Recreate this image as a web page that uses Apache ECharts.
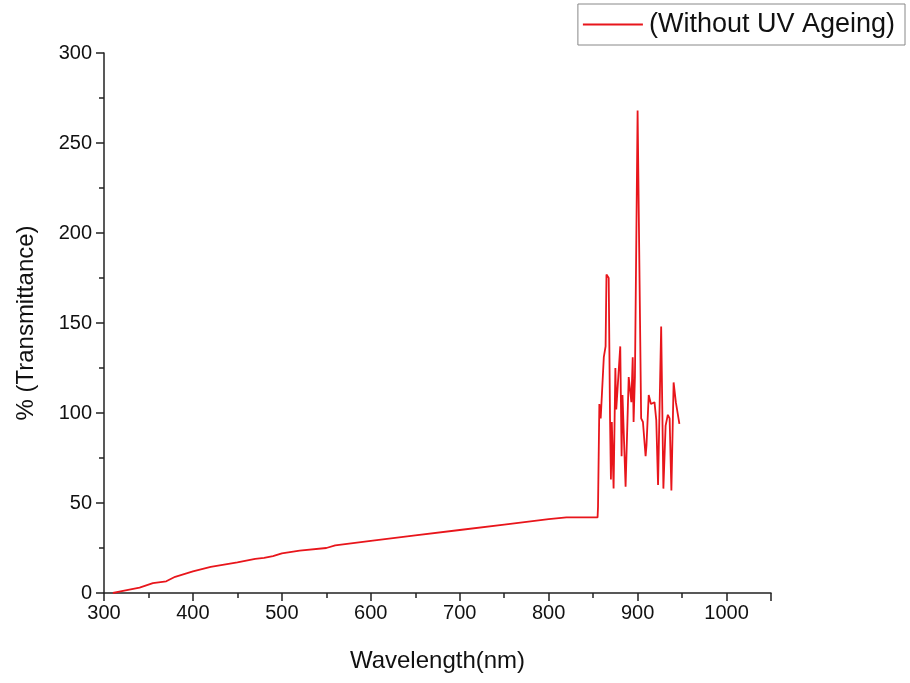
<!DOCTYPE html>
<html>
<head>
<meta charset="utf-8">
<script src="https://cdn.jsdelivr.net/npm/echarts@6/dist/echarts.min.js"></script>
<style>
  html, body { margin: 0; padding: 0; background: #fff; }
  #chart { width: 910px; height: 683px; }
</style>
</head>
<body>
<div id="chart"></div>
<script>
// wavelength (nm) and % transmittance
const wavelength = [
  310, 320, 340, 355, 370, 380, 400, 420, 450, 470, 480, 490, 500, 520, 550, 560,
  600, 650, 700, 750, 800, 820, 850, 855,
  855.5, 857, 858.5, 862, 864, 865, 867.5, 869, 870, 871, 873, 875, 876, 880.5,
  882, 883, 886.5, 890, 893, 894.5, 895.5, 897, 900, 904, 906, 909, 910, 912.5,
  915, 919, 921, 923, 926.5, 929, 931.5, 934, 936, 938, 940.5, 943, 947
];
const transmittance = [
  0, 1, 3, 5.5, 6.5, 9, 12, 14.5, 17, 19, 19.5, 20.5, 22, 23.5, 25, 26.5,
  29, 32, 35, 38, 41, 42, 42, 42,
  48, 105, 97, 131, 137, 177, 175, 97, 63, 95, 58, 125, 102, 137,
  76, 110, 59, 120, 106, 131, 95, 120, 268, 97, 95, 76, 82, 110,
  105, 106, 96, 60, 148, 58, 93, 99, 97, 57, 117, 106, 94
];
const seriesName = '(Without UV Ageing)';

const chart = echarts.init(document.getElementById('chart'));
const font = 'Liberation Sans, Arial, sans-serif';
const axisColor = '#222';

const option = {
  backgroundColor: '#fff',
  animation: false,
  grid: { left: 104, right: 139, top: 53, bottom: 90 },
  legend: {
    right: 5,
    top: 4,
    data: [seriesName],
    icon: 'path://M0,0 L60,0 L60,2 L0,2 Z',
    itemWidth: 62,
    itemHeight: 2,
    itemGap: 8,
    padding: [7, 10, 7, 5],
    borderColor: '#888',
    borderWidth: 1,
    textStyle: { fontFamily: font, fontSize: 27, color: '#111' }
  },
  xAxis: {
    type: 'value',
    min: 300,
    max: 1050,
    interval: 100,
    name: 'Wavelength(nm)',
    nameLocation: 'middle',
    nameGap: 56,
    nameTextStyle: { fontFamily: font, fontSize: 24, color: '#111' },
    axisLine: { show: true, onZero: false, lineStyle: { color: axisColor, width: 1.5 } },
    axisTick: { show: true, inside: false, length: 8, lineStyle: { color: axisColor, width: 1.5 } },
    minorTick: { show: true, splitNumber: 2, length: 5, lineStyle: { color: axisColor, width: 1.5 } },
    axisLabel: {
      fontFamily: font, fontSize: 20, color: '#111', margin: 10, showMaxLabel: false,
      formatter: v => String(v)
    },
    splitLine: { show: false }
  },
  yAxis: {
    type: 'value',
    min: 0,
    max: 300,
    interval: 50,
    name: '% (Transmittance)',
    nameLocation: 'middle',
    nameGap: 66,
    nameRotate: 90,
    nameTextStyle: { fontFamily: font, fontSize: 24, color: '#111' },
    axisLine: { show: true, lineStyle: { color: axisColor, width: 1.5 } },
    axisTick: { show: true, inside: false, length: 8, lineStyle: { color: axisColor, width: 1.5 } },
    minorTick: { show: true, splitNumber: 2, length: 5, lineStyle: { color: axisColor, width: 1.5 } },
    axisLabel: { fontFamily: font, fontSize: 20, color: '#111', margin: 12 },
    splitLine: { show: false }
  },
  series: [{
    name: seriesName,
    type: 'line',
    data: wavelength.map((w, i) => [w, transmittance[i]]),
    symbol: 'none',
    lineStyle: { color: '#e8151b', width: 1.8 },
    itemStyle: { color: '#e8151b' }
  }]
};

chart.setOption(option);
</script>
</body>
</html>
